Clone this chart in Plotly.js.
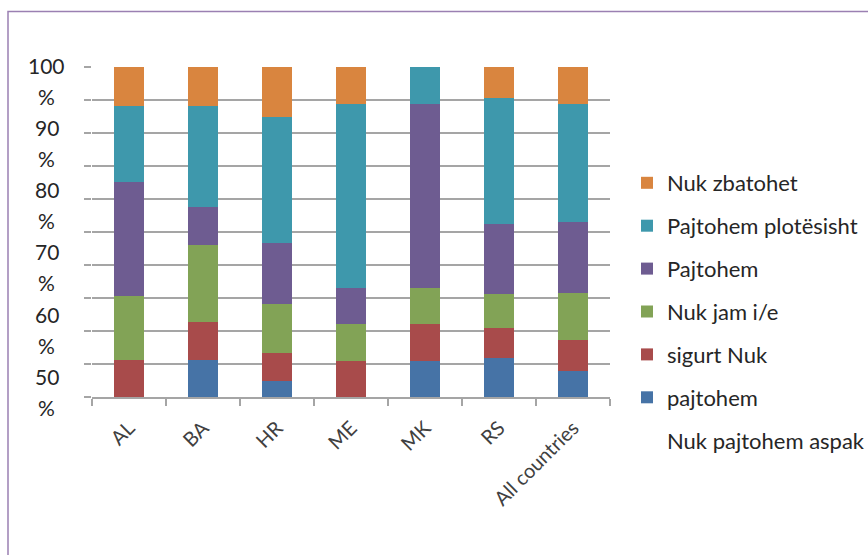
<!DOCTYPE html>
<html>
<head>
<meta charset="utf-8">
<script src="https://cdn.plot.ly/plotly-3.0.1.min.js"></script>
<style>
html,body{margin:0;padding:0;background:#fff;}
#chart{width:868px;height:555px;}
</style>
</head>
<body>
<div id="chart"></div>
<script>
// Categories
const countries = ["AL", "BA", "HR", "ME", "MK", "RS", "All countries"];
// Series values (% of respondents), bottom to top of stack
const seriesBlue   = [0,    11.2, 4.8,  0,    10.9, 11.9, 7.9];
const seriesRed    = [11.2, 11.5, 8.5,  10.9, 11.2, 9.1,  9.5];
const seriesGreen  = [19.4, 23.3, 14.8, 11.2, 11.0, 10.3, 14.1];
const seriesPurple = [34.5, 11.5, 18.5, 11.0, 55.7, 21.2, 21.6];
const seriesTeal   = [23.1, 30.7, 38.4, 55.7, 11.2, 38.1, 35.7];
const seriesOrange = [11.8, 11.8, 14.9, 11.2, 0,    9.4,  11.2];
// Legend labels as printed in the chart
const legendNames = ["pajtohem", "sigurt Nuk", "Nuk jam i/e", "Pajtohem", "Pajtohem plotësisht", "Nuk zbatohet"];
const extraLegendLine = "Nuk pajtohem aspak";
// Y tick labels as printed
const yTickLabels = [100, 90, 80, 70, 60, 50];

const colors = ["#4673A6", "#A84B4B", "#82A356", "#6E5C91", "#3E98AC", "#D9853F"];
const allSeries = [seriesBlue, seriesRed, seriesGreen, seriesPurple, seriesTeal, seriesOrange];

const FONT = "Lato, 'Open Sans', sans-serif";
const TXT = "#262626";

const traces = [{
  type: "scatter", mode: "markers", x: [countries[0]], y: [null], name: extraLegendLine,
  marker: {color: "rgba(0,0,0,0)", opacity: 0, size: 1}, legendgroup: "g0",
  legendrank: 100, showlegend: true, hoverinfo: "skip"
}];
allSeries.forEach((s, i) => {
  traces.push({
    type: "bar", x: countries, y: s, name: legendNames[i],
    marker: {color: colors[i], line: {width: 0}},
    legendgroup: "g" + (i + 1), legendrank: 90 - i * 10
  });
});

// Plot area in pixels
const W = 868, H = 555, L = 92, R = 258, T = 67, B = 158;
const pw = W - L - R, ph = H - T - B;
const px2xp = p => (p - L) / pw;
const py2yp = p => (H - B - p) / ph;

const annotations = [];
yTickLabels.forEach(v => {
  const yv = (100.5 - (100 - v) * 1.884) / 100;
  annotations.push({xref: "paper", yref: "paper", x: px2xp(46.5), y: yv, text: String(v),
    showarrow: false, xanchor: "center", yanchor: "middle", font: {family: FONT, size: 21, color: TXT}});
  annotations.push({xref: "paper", yref: "paper", x: px2xp(46.5), y: yv, yshift: -31, text: "%",
    showarrow: false, xanchor: "center", yanchor: "middle", font: {family: FONT, size: 21, color: TXT}});
});

const layout = {
  width: W, height: H,
  margin: {l: L, r: R, t: T, b: B, pad: 0, autoexpand: false},
  paper_bgcolor: "#fff", plot_bgcolor: "#fff",
  barmode: "stack", bargap: 0.595,
  font: {family: FONT, size: 19, color: TXT},
  showlegend: true,
  legend: {
    x: px2xp(627), xanchor: "left", y: py2yp(162), yanchor: "top",
    traceorder: "grouped", tracegroupgap: 11.3,
    font: {family: FONT, size: 22, color: TXT},
    bgcolor: "rgba(0,0,0,0)", borderwidth: 0, itemwidth: 30
  },
  xaxis: {
    type: "category", tickson: "boundaries", ticks: "outside", ticklen: 7, tickwidth: 1.5,
    tickcolor: "#a5a5a5", showline: true, linecolor: "#a5a5a5", linewidth: 1.5,
    showgrid: false, tickangle: -45, tickfont: {family: FONT, size: 20, color: "#404040"},
    ticklabelstandoff: 10, zeroline: false, automargin: false
  },
  yaxis: {
    range: [0, 100], dtick: 10, showgrid: true, gridcolor: "#a5a5a5", gridwidth: 1.5,
    ticks: "outside", ticklen: 7, tickcolor: "#a5a5a5", tickwidth: 1.5,
    showticklabels: false, zeroline: false, showline: false, fixedrange: true, automargin: false
  },
  annotations: annotations,
  shapes: [{
    type: "rect", xref: "paper", yref: "paper",
    x0: px2xp(8), x1: px2xp(880), y0: py2yp(570), y1: py2yp(11.5),
    line: {color: "#9b80b2", width: 1.5}, fillcolor: "rgba(0,0,0,0)", layer: "below"
  }]
};

Plotly.newPlot("chart", traces, layout, {displayModeBar: false, staticPlot: true});
</script>
</body>
</html>
